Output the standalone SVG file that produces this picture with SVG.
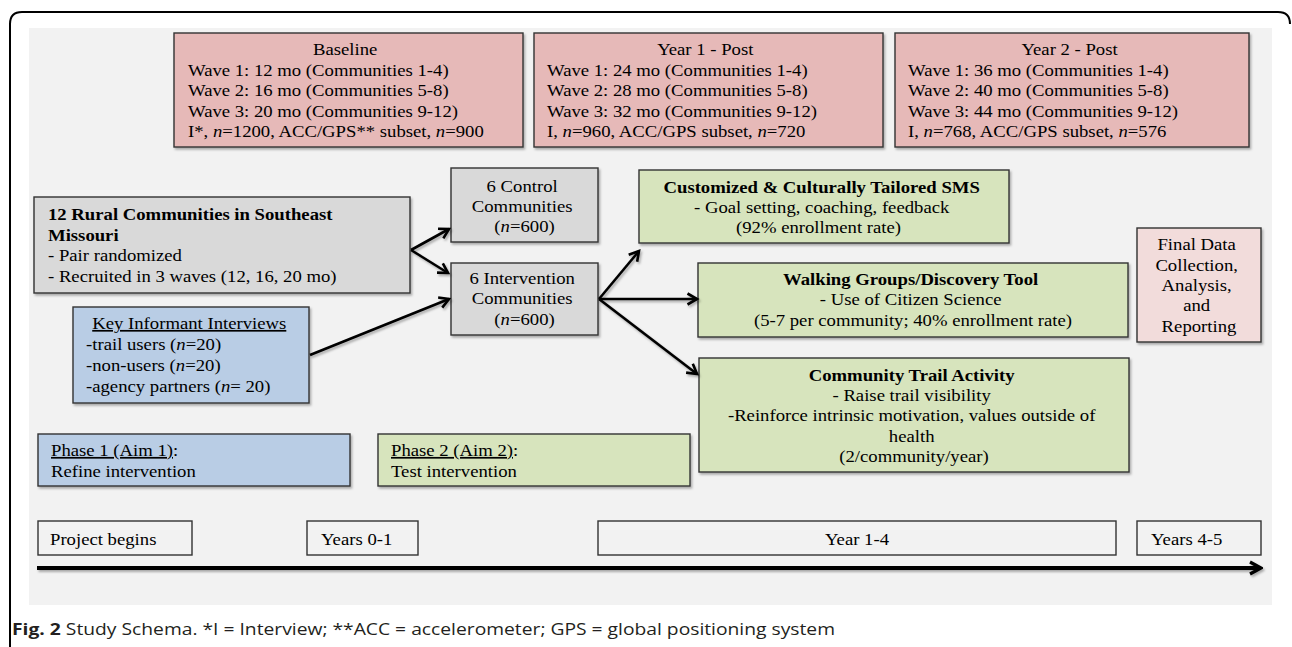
<svg xmlns="http://www.w3.org/2000/svg" width="1292" height="647" viewBox="0 0 1292 647">
<defs>
<filter id="sh" filterUnits="userSpaceOnUse" x="0" y="0" width="1292" height="647"><feDropShadow dx="1.5" dy="2" stdDeviation="1.2" flood-color="#000" flood-opacity="0.3"/></filter>
<marker id="ah" viewBox="0 0 14 14" refX="11.5" refY="7" markerWidth="14" markerHeight="14" markerUnits="userSpaceOnUse" orient="auto"><path d="M2,1.5 L11.5,7 L2,12.5" fill="none" stroke="#000" stroke-width="2.6"/></marker>
<marker id="ah2" viewBox="0 0 16 16" refX="14" refY="8" markerWidth="16" markerHeight="16" markerUnits="userSpaceOnUse" orient="auto"><path d="M3,2 L14,8 L3,14" fill="none" stroke="#000" stroke-width="3.2"/></marker>
</defs>
<style>
.t{font-family:"Liberation Serif","Times New Roman",serif;font-size:17px;fill:#000}
.b{font-weight:bold}
.i{font-style:italic}
.u{text-decoration:underline}
.c{text-anchor:middle}
.box{stroke:#333333;stroke-width:1.4}
.pink{fill:#e6b9b8}
.grey{fill:#d9d9d9}
.blue{fill:#b9cde5}
.green{fill:#d7e4bd}
.lpink{fill:#f2dcdb}
.tl{fill:#f2f2f2}
.conn{stroke:#000;stroke-width:2.6;fill:none;marker-end:url(#ah)}
.cap{font-family:"Open Sans","Liberation Sans",sans-serif;font-size:16px;fill:#231f20}
</style>
<path d="M10,647 V24 Q10,12 22,12 H1278 Q1290,12 1290,24" fill="none" stroke="#000" stroke-width="2"/>
<rect x="29" y="28" width="1243" height="577" fill="#f2f2f2"/>

<g id="baseline">
<rect class="box pink" x="174" y="33" width="349" height="114" filter="url(#sh)"/>
<text class="t" transform="translate(188,0) scale(1.1,1)">
<tspan class="c" x="145" y="55">Baseline</tspan>
<tspan x="0" y="76">Wave 1: 12 mo (Communities 1-4)</tspan>
<tspan x="0" y="96.5">Wave 2: 16 mo (Communities 5-8)</tspan>
<tspan x="0" y="117">Wave 3: 20 mo (Communities 9-12)</tspan>
<tspan x="0" y="137">I*, <tspan class="i">n</tspan>=1200, ACC/GPS** subset, <tspan class="i">n</tspan>=900</tspan>
</text>
</g>

<g id="year1">
<rect class="box pink" x="534" y="33" width="349" height="114" filter="url(#sh)"/>
<text class="t" transform="translate(547,0) scale(1.1,1)">
<tspan class="c" x="146" y="55">Year 1 - Post</tspan>
<tspan x="0" y="76">Wave 1: 24 mo (Communities 1-4)</tspan>
<tspan x="0" y="96.5">Wave 2: 28 mo (Communities 5-8)</tspan>
<tspan x="0" y="117">Wave 3: 32 mo (Communities 9-12)</tspan>
<tspan x="0" y="137">I, <tspan class="i">n</tspan>=960, ACC/GPS subset, <tspan class="i">n</tspan>=720</tspan>
</text>
</g>

<g id="year2">
<rect class="box pink" x="895" y="33" width="354" height="114" filter="url(#sh)"/>
<text class="t" transform="translate(908,0) scale(1.1,1)">
<tspan class="c" x="149" y="55">Year 2 - Post</tspan>
<tspan x="0" y="76">Wave 1: 36 mo (Communities 1-4)</tspan>
<tspan x="0" y="96.5">Wave 2: 40 mo (Communities 5-8)</tspan>
<tspan x="0" y="117">Wave 3: 44 mo (Communities 9-12)</tspan>
<tspan x="0" y="137">I, <tspan class="i">n</tspan>=768, ACC/GPS subset, <tspan class="i">n</tspan>=576</tspan>
</text>
</g>

<g id="rural">
<rect class="box grey" x="34" y="197" width="376" height="96" filter="url(#sh)"/>
<text class="t" transform="translate(48,0) scale(1.1,1)">
<tspan class="b" x="0" y="220">12 Rural Communities in Southeast</tspan>
<tspan class="b" x="0" y="241">Missouri</tspan>
<tspan x="0" y="261">- Pair randomized</tspan>
<tspan x="0" y="282">- Recruited in 3 waves (12, 16, 20 mo)</tspan>
</text>
</g>

<g id="informant">
<rect class="box blue" x="73" y="307" width="236" height="96" filter="url(#sh)"/>
<text class="t" transform="translate(86,0) scale(1.1,1)">
<tspan class="c u" x="96" y="329">Key Informant Interviews</tspan>
<tspan x="0" y="350">-trail users (<tspan class="i">n</tspan>=20)</tspan>
<tspan x="0" y="371">-non-users (<tspan class="i">n</tspan>=20)</tspan>
<tspan x="0" y="392">-agency partners (<tspan class="i">n</tspan>= 20)</tspan>
</text>
</g>

<g id="control">
<rect class="box grey" x="451" y="168" width="147" height="74" filter="url(#sh)"/>
<text class="t c" transform="translate(524.5,0) scale(1.1,1)">
<tspan x="0" y="192">6 Control</tspan>
<tspan x="0" y="212">Communities</tspan>
<tspan x="0" y="232">(<tspan class="i">n</tspan>=600)</tspan>
</text>
</g>

<g id="intervention">
<rect class="box grey" x="451" y="263" width="147" height="72" filter="url(#sh)"/>
<text class="t c" transform="translate(524.5,0) scale(1.1,1)">
<tspan x="0" y="284">6 Intervention</tspan>
<tspan x="0" y="304">Communities</tspan>
<tspan x="0" y="325">(<tspan class="i">n</tspan>=600)</tspan>
</text>
</g>

<g id="sms">
<rect class="box green" x="639" y="170" width="370" height="73" filter="url(#sh)"/>
<text class="t c" transform="translate(824,0) scale(1.1,1)">
<tspan class="b" x="0" y="193">Customized &amp; Culturally Tailored SMS</tspan>
<tspan x="0" y="213">- Goal setting, coaching, feedback</tspan>
<tspan x="-5" y="233">(92% enrollment rate)</tspan>
</text>
</g>

<g id="walking">
<rect class="box green" x="698" y="263" width="430" height="74" filter="url(#sh)"/>
<text class="t c" transform="translate(913,0) scale(1.1,1)">
<tspan class="b" x="0" y="285">Walking Groups/Discovery Tool</tspan>
<tspan x="0" y="305">- Use of Citizen Science</tspan>
<tspan x="0" y="326">(5-7 per community; 40% enrollment rate)</tspan>
</text>
</g>

<g id="trail">
<rect class="box green" x="699" y="358" width="430" height="114" filter="url(#sh)"/>
<text class="t c" transform="translate(914,0) scale(1.1,1)">
<tspan class="b" x="0" y="381">Community Trail Activity</tspan>
<tspan x="0" y="401">- Raise trail visibility</tspan>
<tspan x="0" y="421">-Reinforce intrinsic motivation, values outside of</tspan>
<tspan x="0" y="442">health</tspan>
<tspan x="0" y="462">(2/community/year)</tspan>
</text>
</g>

<g id="final">
<rect class="box lpink" x="1137" y="228" width="124" height="114" filter="url(#sh)"/>
<text class="t c" transform="translate(1199,0) scale(1.1,1)">
<tspan x="0" y="250">Final Data</tspan>
<tspan x="0" y="271">Collection,</tspan>
<tspan x="0" y="291">Analysis,</tspan>
<tspan x="0" y="311">and</tspan>
<tspan x="0" y="332">Reporting</tspan>
</text>
</g>

<g id="phase1">
<rect class="box blue" x="38" y="434" width="312" height="52" filter="url(#sh)"/>
<text class="t" transform="translate(51,0) scale(1.1,1)">
<tspan x="0" y="456"><tspan class="u">Phase 1 (Aim 1)</tspan>:</tspan>
<tspan x="0" y="477">Refine intervention</tspan>
</text>
</g>

<g id="phase2">
<rect class="box green" x="378" y="434" width="312" height="52" filter="url(#sh)"/>
<text class="t" transform="translate(391,0) scale(1.1,1)">
<tspan x="0" y="456"><tspan class="u">Phase 2 (Aim 2)</tspan>:</tspan>
<tspan x="0" y="477">Test intervention</tspan>
</text>
</g>

<g id="t-begin">
<rect class="box tl" x="38" y="521" width="154" height="34"/>
<text class="t" transform="translate(50,545) scale(1.1,1)">Project begins</text>
</g>
<g id="t-years01">
<rect class="box tl" x="307" y="521" width="111" height="34"/>
<text class="t" transform="translate(321,545) scale(1.1,1)">Years 0-1</text>
</g>
<g id="t-years14">
<rect class="box tl" x="598" y="521" width="518" height="34"/>
<text class="t c" transform="translate(857,545) scale(1.1,1)">Year 1-4</text>
</g>
<g id="t-years45">
<rect class="box tl" x="1137" y="521" width="124" height="34"/>
<text class="t" transform="translate(1151,545) scale(1.1,1)">Years 4-5</text>
</g>

<g id="connectors" filter="url(#sh)">
<line class="conn" x1="411" y1="250" x2="449" y2="229"/>
<line class="conn" x1="411" y1="250" x2="448" y2="273"/>
<line class="conn" x1="310" y1="355" x2="449" y2="299"/>
<line class="conn" x1="599" y1="299" x2="639" y2="251"/>
<line class="conn" x1="599" y1="299" x2="697" y2="299"/>
<line class="conn" x1="599" y1="299" x2="697" y2="374"/>
<line x1="37" y1="568" x2="1261" y2="568" stroke="#000" stroke-width="4" marker-end="url(#ah2)"/>
</g>

<text class="cap" x="12" y="635" textLength="823" lengthAdjust="spacingAndGlyphs"><tspan font-weight="bold">Fig. 2</tspan> Study Schema. *I = Interview; **ACC = accelerometer; GPS = global positioning system</text>
</svg>
